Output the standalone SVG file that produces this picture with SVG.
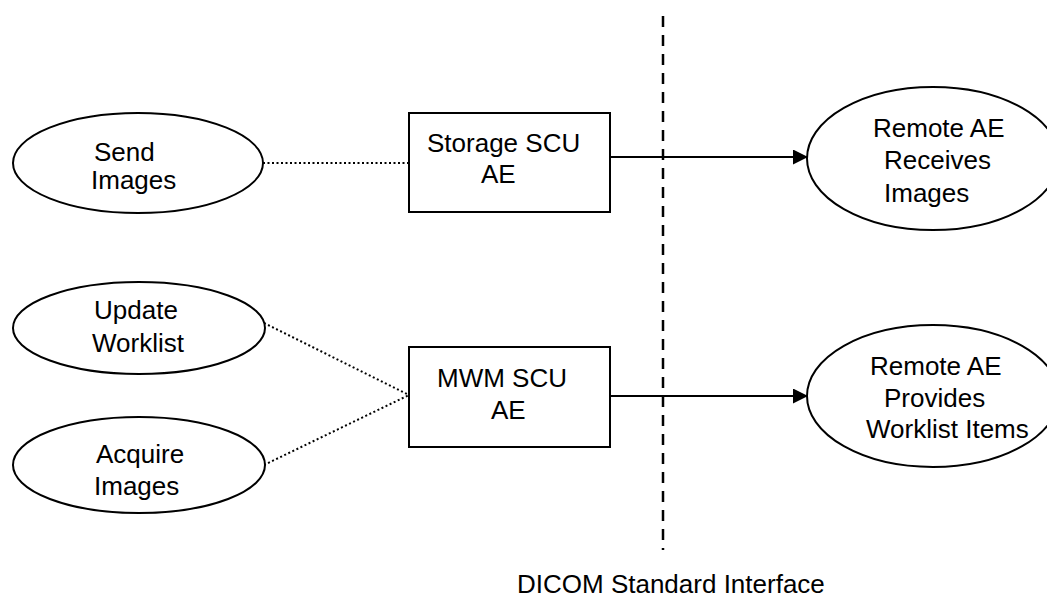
<svg xmlns="http://www.w3.org/2000/svg" width="1047" height="597" viewBox="0 0 1047 597">
<defs>
<style>
.n{fill:#fff;stroke:#000;stroke-width:2}
.t{font-family:"Liberation Sans",Arial,sans-serif;font-size:26px;fill:#000}
.dot{stroke:#000;stroke-width:2;stroke-dasharray:2 2.5;fill:none}
.arr{stroke:#000;stroke-width:2;fill:none;marker-end:url(#ah)}
.dash{stroke:#000;stroke-width:2.5;stroke-dasharray:11 8;fill:none}
</style>
<marker id="ah" markerUnits="userSpaceOnUse" markerWidth="16" markerHeight="16" refX="15" refY="7.5" orient="auto">
<path d="M0,0 L15,7.5 L0,15 Z" fill="#000"/>
</marker>
</defs>
<g id="connectors">
<line class="dash" x1="663" y1="16" x2="663" y2="550"/>
<line class="dot" x1="263" y1="163" x2="409" y2="163"/>
<line class="dot" x1="264" y1="323" x2="409" y2="395"/>
<line class="dot" x1="264" y1="465" x2="409" y2="395"/>
<line class="arr" x1="610" y1="157" x2="808" y2="157"/>
<line class="arr" x1="610" y1="396" x2="808" y2="396"/>
</g>
<g id="send">
<ellipse class="n" cx="138" cy="163" rx="125" ry="50"/>
<text class="t" x="94" y="161">Send</text>
<text class="t" x="91" y="189">Images</text>
</g>
<g id="storage">
<rect class="n" x="409" y="113" width="201" height="99"/>
<text class="t" x="427" y="152">Storage SCU</text>
<text class="t" x="481" y="183">AE</text>
</g>
<g id="recv">
<ellipse class="n" cx="933" cy="158.5" rx="126" ry="71.5"/>
<text class="t" x="873" y="137">Remote AE</text>
<text class="t" x="884" y="169">Receives</text>
<text class="t" x="884" y="202">Images</text>
</g>
<g id="update">
<ellipse class="n" cx="139" cy="328" rx="126" ry="46"/>
<text class="t" x="94" y="319">Update</text>
<text class="t" x="92" y="352">Worklist</text>
</g>
<g id="acquire">
<ellipse class="n" cx="139" cy="465" rx="126" ry="48"/>
<text class="t" x="96" y="463">Acquire</text>
<text class="t" x="94" y="495">Images</text>
</g>
<g id="mwm">
<rect class="n" x="409" y="347" width="201" height="100"/>
<text class="t" x="437" y="387">MWM SCU</text>
<text class="t" x="491" y="419">AE</text>
</g>
<g id="prov">
<ellipse class="n" cx="933" cy="396" rx="126" ry="71"/>
<text class="t" x="870" y="375">Remote AE</text>
<text class="t" x="884" y="407">Provides</text>
<text class="t" x="866" y="438">Worklist Items</text>
</g>
<g id="label">
<text class="t" x="517" y="593">DICOM Standard Interface</text>
</g>
</svg>
